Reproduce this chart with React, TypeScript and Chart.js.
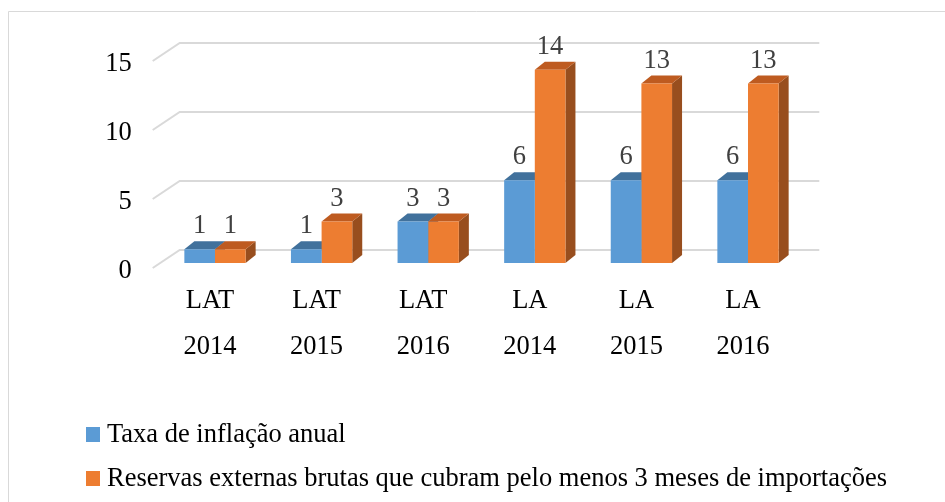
import React, { useEffect, useRef } from 'react';
import { Chart, registerables } from 'chart.js';

Chart.register(...registerables);

const categories: string[][] = [
  ['LAT', '2014'],
  ['LAT', '2015'],
  ['LAT', '2016'],
  ['LA', '2014'],
  ['LA', '2015'],
  ['LA', '2016'],
];
const inflacao = [1, 1, 3, 6, 6, 6];
const reservas = [1, 3, 3, 14, 13, 13];
const seriesNames = [
  'Taxa de inflação anual',
  'Reservas externas brutas que cubram pelo menos 3 meses de importações',
];
const yTicks = [0, 5, 10, 15];

const FONT = "'Liberation Serif', 'Times New Roman', serif";
const FS = 26.5;
const frontColors = ['#5b9bd5', '#ed7d31'];
const topColors = ['#41719c', '#be5b20'];
const sideColors = ['#3a6590', '#984e1e'];
const DX = 10;
const DY = 8;

const poly = (ctx: CanvasRenderingContext2D, pts: number[][]) => {
  ctx.beginPath();
  ctx.moveTo(pts[0][0], pts[0][1]);
  for (let i = 1; i < pts.length; i++) ctx.lineTo(pts[i][0], pts[i][1]);
  ctx.closePath();
  ctx.fill();
};

const threeD = {
  id: 'threeD',
  beforeDraw(chart: any) {
    const ctx = chart.ctx as CanvasRenderingContext2D;
    ctx.save();
    ctx.fillStyle = '#ffffff';
    ctx.fillRect(0, 0, chart.width, chart.height);
    ctx.strokeStyle = '#d9d9d9';
    ctx.lineWidth = 1;
    ctx.beginPath();
    ctx.moveTo(8.5, chart.height);
    ctx.lineTo(8.5, 11.5);
    ctx.lineTo(chart.width, 11.5);
    ctx.stroke();
    ctx.restore();
  },
  beforeDatasetsDraw(chart: any) {
    const ctx = chart.ctx as CanvasRenderingContext2D;
    const ys = chart.scales.y;
    const { left, right } = chart.chartArea;
    ctx.save();
    ctx.strokeStyle = '#d9d9d9';
    ctx.lineWidth = 2;
    yTicks.forEach((v) => {
      const py = ys.getPixelForValue(v);
      ctx.beginPath();
      ctx.moveTo(left - 9, py + 5);
      ctx.lineTo(left + 18, py - 13);
      ctx.lineTo(right + 18, py - 13);
      ctx.stroke();
    });
    chart.data.datasets.forEach((_ds: any, i: number) => {
      const meta = chart.getDatasetMeta(i);
      meta.data.forEach((el: any) => {
        const { x, y, base, width } = el.getProps(['x', 'y', 'base', 'width'], true);
        const x0 = x - width / 2;
        const x1 = x + width / 2;
        ctx.fillStyle = sideColors[i];
        poly(ctx, [
          [x1, y],
          [x1 + DX, y - DY],
          [x1 + DX, base - DY],
          [x1, base],
        ]);
        ctx.fillStyle = topColors[i];
        poly(ctx, [
          [x0, y],
          [x1, y],
          [x1 + DX, y - DY],
          [x0 + DX, y - DY],
        ]);
      });
    });
    ctx.restore();
  },
  afterDatasetsDraw(chart: any) {
    const ctx = chart.ctx as CanvasRenderingContext2D;
    ctx.save();
    ctx.fillStyle = '#404040';
    ctx.font = `${FS}px ${FONT}`;
    ctx.textAlign = 'center';
    ctx.textBaseline = 'middle';
    chart.data.datasets.forEach((ds: any, i: number) => {
      const meta = chart.getDatasetMeta(i);
      meta.data.forEach((el: any, j: number) => {
        const { x, y } = el.getProps(['x', 'y'], true);
        ctx.fillText(String(ds.data[j]), x, y - 23);
      });
    });
    ctx.restore();
  },
  afterDraw(chart: any) {
    // legend
    const ctx = chart.ctx as CanvasRenderingContext2D;
    const bottom = chart.chartArea.bottom;
    ctx.save();
    ctx.font = `${FS}px ${FONT}`;
    ctx.textAlign = 'left';
    ctx.textBaseline = 'middle';
    chart.data.datasets.forEach((ds: any, i: number) => {
      const cy = bottom + 171 + i * 44;
      ctx.fillStyle = ds.backgroundColor;
      ctx.fillRect(86, cy - 7, 14, 15);
      ctx.fillStyle = '#000';
      ctx.fillText(ds.label, 107, cy + 1);
    });
    ctx.restore();
  },
};

export default function App() {
  const ref = useRef<HTMLCanvasElement>(null);
  useEffect(() => {
    if (!ref.current) return;
    const chart = new Chart(ref.current, {
      type: 'bar',
      data: {
        labels: categories,
        datasets: [
          { label: seriesNames[0], data: inflacao, backgroundColor: frontColors[0], borderWidth: 0 },
          { label: seriesNames[1], data: reservas, backgroundColor: frontColors[1], borderWidth: 0 },
        ],
      },
      options: {
        responsive: false,
        animation: false,
        layout: { padding: { left: 61.5, right: 143.7, top: 56, bottom: 100.5 } },
        datasets: { bar: { categoryPercentage: 0.575, barPercentage: 1 } },
        scales: {
          x: {
            grid: { display: false, drawTicks: false },
            border: { display: false },
            ticks: {
              padding: 15,
              labelOffset: -5,
              color: '#000',
              maxRotation: 0,
              autoSkip: false,
              font: { family: FONT, size: FS, lineHeight: 46 / FS },
            },
            afterFit(s: any) {
              s.height = 138.5;
            },
          },
          y: {
            min: 0,
            max: 15,
            grid: { display: false, drawTicks: false },
            border: { display: false },
            ticks: {
              stepSize: 5,
              padding: 30,
              labelOffset: 8,
              color: '#000',
              font: { family: FONT, size: FS },
            },
            afterFit(s: any) {
              s.width = 100.2;
            },
          },
        },
        plugins: {
          legend: { display: false },
          tooltip: { enabled: false },
        },
      } as any,
      plugins: [threeD],
    });
    return () => chart.destroy();
  }, []);
  return (
    <div style={{ position: 'fixed', left: 0, top: 0, width: 945, height: 502 }}>
      <canvas ref={ref} width={945} height={502} style={{ display: 'block' }} />
    </div>
  );
}
